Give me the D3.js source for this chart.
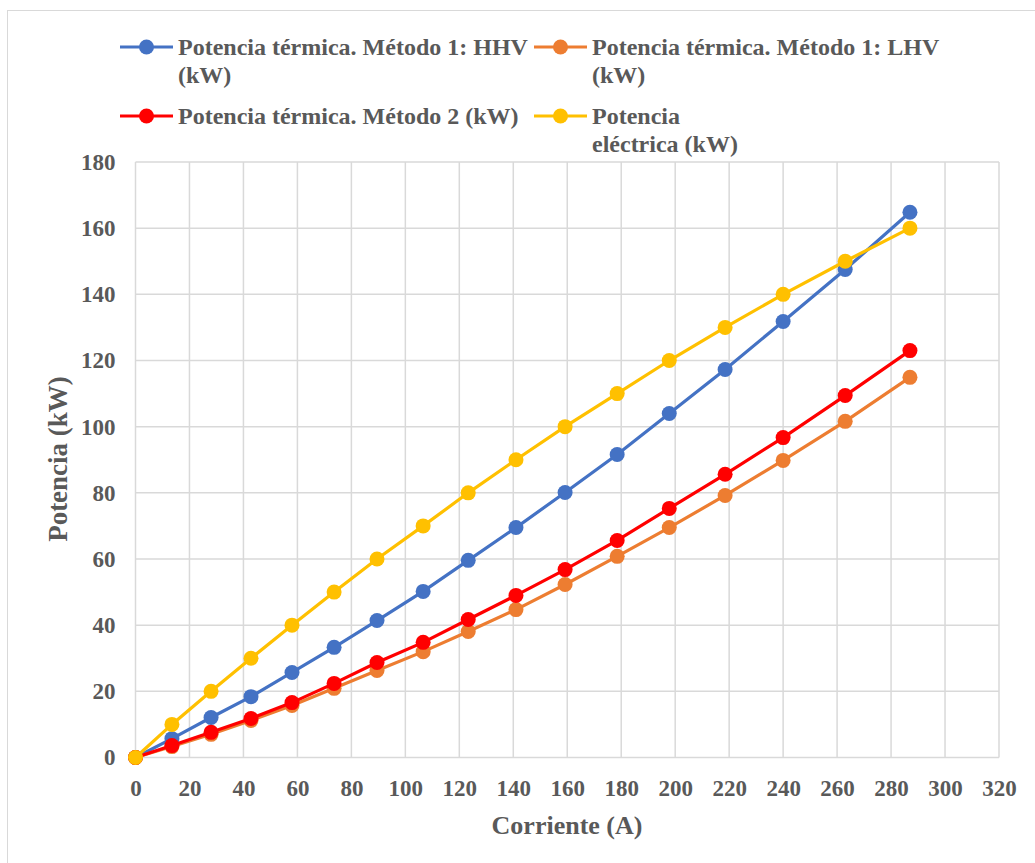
<!DOCTYPE html>
<html>
<head>
<meta charset="utf-8">
<script src="https://cdn.jsdelivr.net/npm/d3@7"></script>
<style>
  body { margin: 0; background: #fff; overflow: hidden; }
  text { font-family: 'Liberation Serif', 'Times New Roman', serif; font-weight: bold; fill: #595959; }
</style>
</head>
<body>
<svg id="chart" width="1035" height="863"></svg>
<script>
// data
const corriente = [0, 13.5, 28, 42.8, 58, 73.6, 89.5, 106.6, 123.3, 141, 159.2, 178.5, 197.8, 218.5, 240, 263, 287]
const hhv = [0, 5.7, 12.1, 18.4, 25.7, 33.3, 41.4, 50.2, 59.6, 69.5, 80.1, 91.6, 104, 117.3, 131.8, 147.5, 164.8]
const lhv = [0, 3.3, 7.0, 11.2, 15.7, 20.9, 26.3, 32.0, 38.1, 44.7, 52.3, 60.8, 69.5, 79.2, 89.8, 101.6, 114.9]
const metodo2 = [0, 3.6, 7.6, 11.8, 16.6, 22.4, 28.7, 34.8, 41.7, 49, 56.8, 65.6, 75.3, 85.6, 96.7, 109.4, 123.0]
const electrica = [0, 10, 20, 30, 40, 50, 60, 70, 80, 90, 100, 110, 120, 130, 140, 150, 160]
const xTicks = d3.range(0, 321, 20)
const yTicks = d3.range(0, 181, 20)

const series = [
  { name: ['Potencia térmica. Método 1: HHV', '(kW)'], color: '#4472C4', values: hhv },
  { name: ['Potencia térmica. Método 1: LHV', '(kW)'], color: '#ED7D31', values: lhv },
  { name: ['Potencia térmica. Método 2 (kW)'], color: '#FF0000', values: metodo2 },
  { name: ['Potencia', 'eléctrica (kW)'], color: '#FFC000', values: electrica }
]

const svg = d3.select('#chart')

// chart border (right and bottom edges fall outside the picture)
svg.append('rect')
  .attr('x', 7.5).attr('y', 10.5).attr('width', 1040).attr('height', 870)
  .attr('fill', '#fff').attr('stroke', '#d9d9d9')

const margin = { left: 135.5, right: 999, top: 162, bottom: 757.5 }
const x = d3.scaleLinear().domain([0, 320]).range([margin.left, margin.right])
const y = d3.scaleLinear().domain([0, 180]).range([margin.bottom, margin.top])

// grid
const grid = svg.append('g')
grid.selectAll('.gx').data(xTicks).enter().append('line')
  .attr('x1', (d) => x(d)).attr('x2', (d) => x(d))
  .attr('y1', margin.top).attr('y2', margin.bottom)
  .style('stroke', '#d9d9d9').style('stroke-width', '1.5px')
grid.selectAll('.gy').data(yTicks).enter().append('line')
  .attr('x1', margin.left).attr('x2', margin.right)
  .attr('y1', (d) => y(d)).attr('y2', (d) => y(d))
  .style('stroke', '#d9d9d9').style('stroke-width', '1.5px')

// axes
const xAxis = svg.append('g')
  .attr('transform', `translate(0, ${margin.bottom})`)
  .call(d3.axisBottom(x).tickValues(xTicks).tickSize(0).tickPadding(22))
xAxis.select('.domain').remove()
xAxis.selectAll('text').style('font-size', '23px').attr('fill', '#595959')

const yAxis = svg.append('g')
  .attr('transform', `translate(${margin.left}, 0)`)
  .call(d3.axisLeft(y).tickValues(yTicks).tickSize(0).tickPadding(20))
yAxis.select('.domain').remove()
yAxis.selectAll('text').style('font-size', '23px').attr('fill', '#595959')

// axis titles
svg.append('text')
  .attr('x', 567).attr('y', 834)
  .attr('text-anchor', 'middle')
  .style('font-size', '26px')
  .text('Corriente (A)')

svg.append('text')
  .attr('transform', 'translate(67, 459) rotate(-90)')
  .attr('text-anchor', 'middle')
  .style('font-size', '27px')
  .text('Potencia (kW)')

// lines and markers
const line = d3.line()
  .x((d, i) => x(corriente[i]))
  .y((d) => y(d))

const plot = svg.append('g')
series.forEach((s) => {
  plot.append('path')
    .attr('d', line(s.values))
    .style('fill', 'none')
    .style('stroke', s.color)
    .style('stroke-width', '3.2px')
  plot.selectAll(null).data(s.values).enter().append('circle')
    .attr('cx', (d, i) => x(corriente[i]))
    .attr('cy', (d) => y(d))
    .attr('r', 7.5)
    .style('fill', s.color)
})

// legend
const legendPos = [
  { x: 120, y: 47 },
  { x: 534, y: 47 },
  { x: 120, y: 116 },
  { x: 534, y: 116 }
]
series.forEach((s, i) => {
  const p = legendPos[i]
  const g = svg.append('g').attr('transform', `translate(${p.x}, ${p.y})`)
  g.append('line')
    .attr('x1', 0).attr('x2', 53)
    .style('stroke', s.color).style('stroke-width', '3.2px')
  g.append('circle').attr('cx', 26.5).attr('r', 7.5).style('fill', s.color)
  g.selectAll(null).data(s.name).enter().append('text')
    .attr('x', 58)
    .attr('y', (d, j) => j * 28)
    .attr('dy', '0.33em')
    .style('font-size', '24px')
    .text((d) => d)
})
</script>
</body>
</html>
